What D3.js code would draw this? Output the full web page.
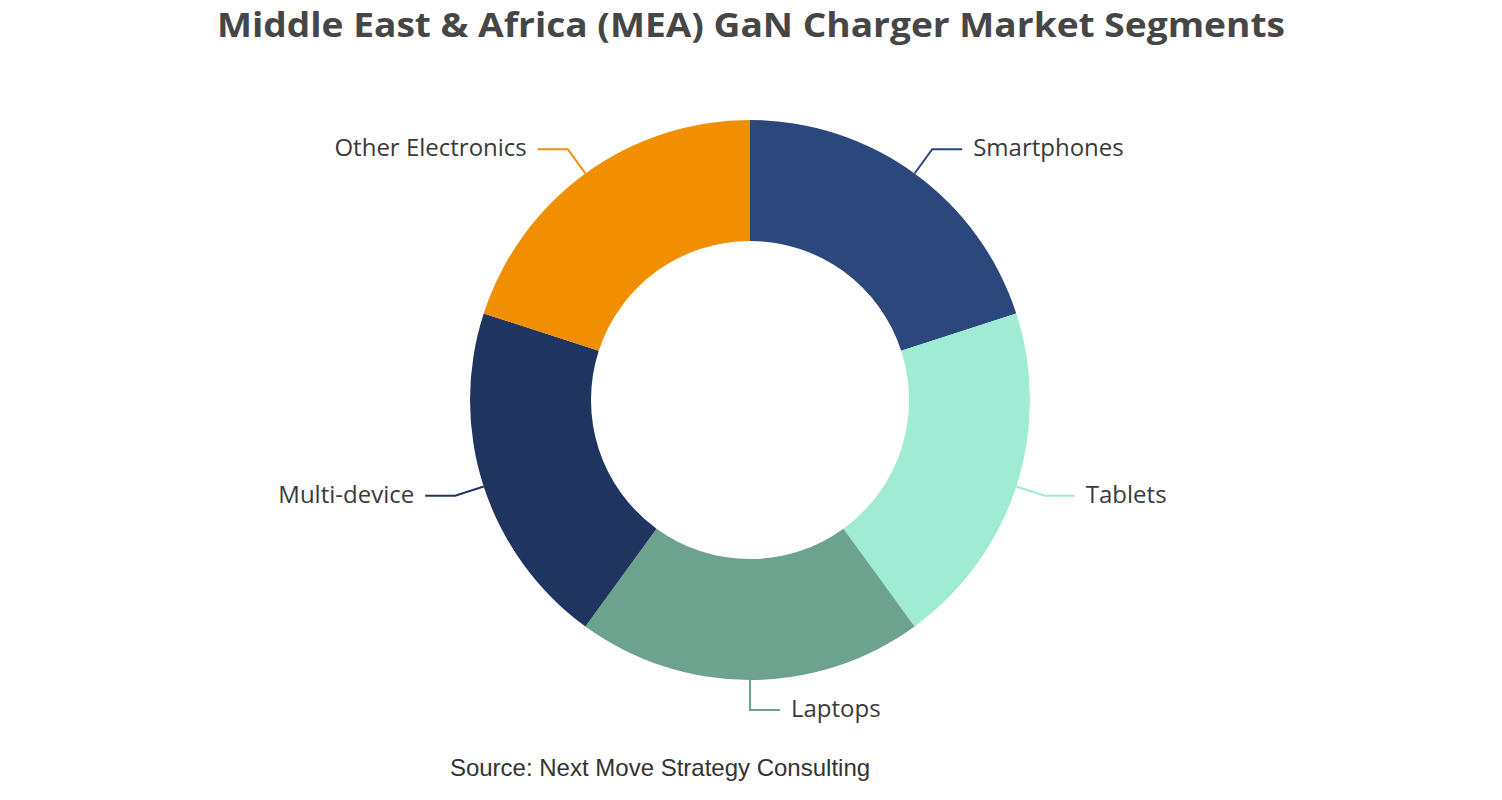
<!DOCTYPE html>
<html>
<head>
<script src="https://cdn.jsdelivr.net/npm/d3@7"></script>
<style>
	body { margin: 0; background: #fff; }
	svg { display: block; }
</style>
</head>
<body>
<div id="container"></div>
<script>
	const width = 1502,
	height = 800;

	// segment data (five equal shares)
	const segments = ["Smartphones", "Tablets", "Laptops", "Multi-device", "Other Electronics"];
	const shares = [20, 20, 20, 20, 20];
	const colors = ["#2b477c", "#a0ebd3", "#6da38e", "#1f345f", "#f18f01"];

	const cx = 750, cy = 400;
	const outerR = 280, innerR = 159;
	const len1 = 30, len2 = 30, gap = 11;

	var svg = d3.select("#container").append("svg").attr("width", width).attr("height", height);

	var color = d3.scaleOrdinal().domain(segments).range(colors);

	var pie = d3.pie().sort(null).value(function(d, i){ return shares[i]; });
	var arc = d3.arc().innerRadius(innerR).outerRadius(outerR);

	var arcs = pie(segments);

	var g = svg.append("g").attr("transform", "translate(" + cx + "," + cy + ")");

	g.selectAll("path.slice").data(arcs).enter()
		.append("path")
		.attr("class", "slice")
		.attr("d", arc)
		.attr("fill", function(d){ return color(d.data); });

	/********************************************************************************************
		LABELS + LEADER LINES
	********************************************************************************************/
	function pt(a, r) { return [r * Math.sin(a), -r * Math.cos(a)]; }

	arcs.forEach(function(d){
		var mid = (d.startAngle + d.endAngle) / 2;
		var p0 = pt(mid, outerR), p1 = pt(mid, outerR + len1);
		var side = Math.sin(mid) < -1e-6 ? -1 : 1;
		var p2 = [p1[0] + side * len2, p1[1]];

		g.append("polyline")
			.attr("points", [p0, p1, p2].map(function(p){ return p.join(","); }).join(" "))
			.attr("fill", "none")
			.attr("stroke", color(d.data))
			.attr("stroke-width", 2);

		g.append("text")
			.attr("x", p2[0] + side * gap)
			.attr("y", p2[1])
			.attr("dy", "0.3em")
			.attr("text-anchor", side > 0 ? "start" : "end")
			.attr("font-family", "'Open Sans', 'Noto Sans', sans-serif")
			.attr("font-size", 24)
			.attr("fill", "#3a3a3a")
			.text(d.data);
	});

	// title
	svg.append("text")
		.attr("x", 751).attr("y", 37)
		.attr("text-anchor", "middle")
		.attr("font-family", "'Open Sans', 'Noto Sans', sans-serif")
		.attr("font-weight", "bold")
		.attr("font-size", 34)
		.attr("fill", "#464646")
		.attr("textLength", 1068)
		.attr("lengthAdjust", "spacingAndGlyphs")
		.text("Middle East & Africa (MEA) GaN Charger Market Segments");

	// source
	svg.append("text")
		.attr("x", 660).attr("y", 776)
		.attr("text-anchor", "middle")
		.attr("font-family", "'Liberation Sans', Arial, sans-serif")
		.attr("font-size", 24)
		.attr("fill", "#333")
		.text("Source: Next Move Strategy Consulting");
</script>
</body>
</html>
